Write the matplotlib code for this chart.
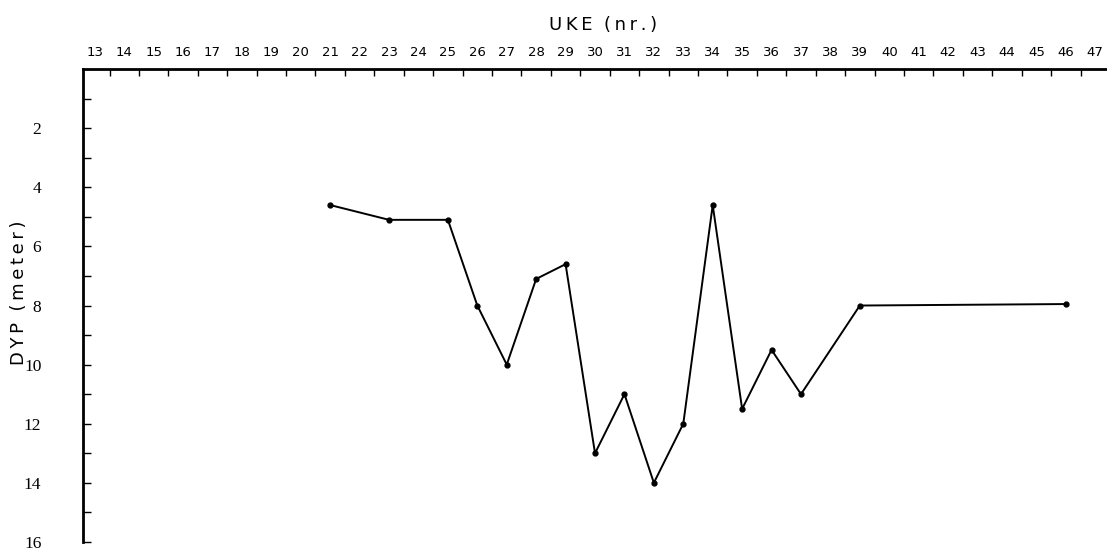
import numpy as np
import matplotlib
matplotlib.use("Agg")
import matplotlib.pyplot as plt
from matplotlib.ticker import FixedLocator, NullFormatter

# depth readings per week
weeks = [21, 23, 25, 26, 27, 28, 29, 30, 31, 32, 33, 34, 35, 36, 37, 39, 46]
depth = [4.6, 5.1, 5.1, 8.0, 10.0, 7.1, 6.6, 13.0, 11.0, 14.0, 12.0, 4.6,
         11.5, 9.5, 11.0, 8.0, 7.95]

week_labels = list(range(13, 48))
depth_labels = [2, 4, 6, 8, 10, 12, 14, 16]

fig = plt.figure(figsize=(11.07, 5.53), dpi=100)
ax = fig.add_axes([0.075, 0.02, 0.925, 0.855])

ax.plot(weeks, depth, color='black', linewidth=1.4, marker='o', markersize=3.5)

ax.set_xlim(12.6, 47.4)
ax.set_ylim(16, 0)

# week labels centred, ticks on the boundaries between weeks
ax.xaxis.tick_top()
ax.set_xticks(week_labels)
ax.set_xticklabels([str(w) for w in week_labels],
                   family=['Liberation Sans Narrow', 'DejaVu Sans'], fontsize=9.5)
ax.tick_params(axis='x', which='major', length=0, pad=7)
ax.xaxis.set_minor_locator(FixedLocator(np.arange(13.5, 47, 1)))
ax.xaxis.set_minor_formatter(NullFormatter())
ax.tick_params(axis='x', which='minor', direction='in', length=5, width=1, top=True, bottom=False)

ax.set_yticks(depth_labels)
ax.set_yticklabels([str(d) for d in depth_labels],
                   family=['Liberation Serif', 'DejaVu Serif'], fontsize=12.5)
ax.yaxis.set_minor_locator(FixedLocator(np.arange(1, 16, 2)))
ax.tick_params(axis='y', which='both', direction='in', length=6, width=1, pad=30)

for side in ['bottom', 'right']:
    ax.spines[side].set_visible(False)
ax.spines['top'].set_linewidth(2)
ax.spines['left'].set_linewidth(2)

ts = '\u2009'
fig.text(0.545, 0.955, ts.join('UKE') + '  ' + ts.join('(nr.)'),
         ha='center', va='center', fontsize=13)
fig.text(0.017, 0.47, ts.join('DYP') + '  ' + ts.join('(meter)'),
         ha='center', va='center', rotation=90, fontsize=13)

fig.savefig('out.png', dpi=100)
